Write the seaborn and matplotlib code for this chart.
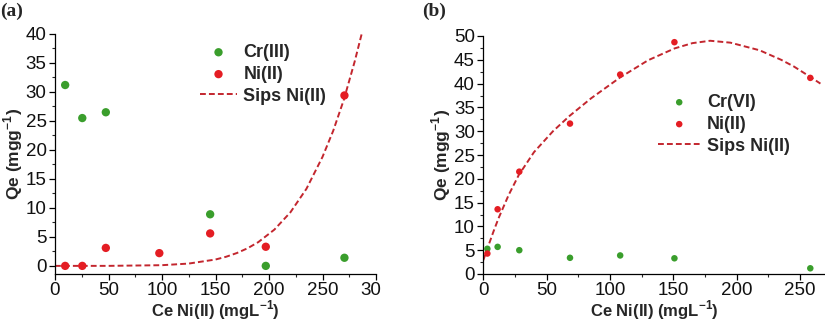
import numpy as np
import pandas as pd
import matplotlib
matplotlib.use("Agg")
import matplotlib.pyplot as plt
import seaborn as sns
from matplotlib.ticker import MultipleLocator
from matplotlib.transforms import Bbox, IdentityTransform, TransformedBbox

# ---------------- data ----------------
# panel (a)
a_x = [9.5, 25.5, 47.5, 97.5, 145, 197, 270.5]
a_cr_x = [9.5, 25.5, 47.5, 145, 197, 270.5]
a_cr_y = [31.2, 25.5, 26.5, 8.9, 0.0, 1.4]
a_ni_y = [0.0, 0.0, 3.1, 2.2, 5.6, 3.3, 29.4]
a_fit_x = [0, 50, 100, 125, 150, 160, 170, 180, 190, 205, 220, 235, 250, 260, 270, 280, 286.6]
a_fit_y = [0.0, 0.003, 0.12, 0.40, 1.1, 1.58, 2.22, 3.04, 4.10, 6.25, 9.24, 13.3, 18.8, 23.3, 28.7, 35.2, 40.0]

# panel (b)
b_x = [3.2, 11.3, 28.4, 68.4, 108, 150.8, 258]
b_cr_y = [5.3, 5.7, 5.0, 3.4, 3.9, 3.3, 1.2]
b_ni_y = [4.3, 13.6, 21.5, 31.6, 41.9, 48.7, 41.2]
b_fit_x = [0, 3, 8, 12, 20, 28, 40, 55, 68, 85, 108, 130, 151, 165, 179, 195, 218, 235, 245, 258, 266]
b_fit_y = [2.9, 5.2, 8.9, 11.7, 16.6, 20.8, 25.6, 30.0, 33.2, 36.9, 41.3, 44.9, 47.4, 48.5, 49.0, 48.6, 47.0, 45.0, 43.6, 41.4, 40.0]

x_ticks_a = [0, 50, 100, 150, 200, 250, 300]
y_ticks_a = [0, 5, 10, 15, 20, 25, 30, 35, 40]
x_ticks_b = [0, 50, 100, 150, 200, 250]
y_ticks_b = [0, 5, 10, 15, 20, 25, 30, 35, 40, 45, 50]

# ---------------- style ----------------
sns.set_theme(style="ticks")
plt.rcParams['font.family'] = ['Liberation Sans', 'DejaVu Sans']
plt.rcParams['mathtext.fontset'] = 'custom'
plt.rcParams['mathtext.rm'] = 'Liberation Sans'
plt.rcParams['mathtext.bf'] = 'Liberation Sans:bold'

GREEN = "#3a9e2c"
RED = "#e41d23"
FIT = "#c3262e"

W, H = 825, 324
fig = plt.figure(figsize=(W / 100, H / 100), dpi=100)

def px_axes(left, top, right, bottom):
    return fig.add_axes([left / W, (H - bottom) / H, (right - left) / W, (bottom - top) / H])

ax_a = px_axes(55, 34, 376, 274)
ax_b = px_axes(483.3, 36, 825.5, 274)

df_a_cr = pd.DataFrame({"x": a_cr_x, "y": a_cr_y})
df_a_ni = pd.DataFrame({"x": a_x, "y": a_ni_y})
df_a_fit = pd.DataFrame({"x": a_fit_x, "y": a_fit_y})
df_b_cr = pd.DataFrame({"x": b_x, "y": b_cr_y})
df_b_ni = pd.DataFrame({"x": b_x, "y": b_ni_y})
df_b_fit = pd.DataFrame({"x": b_fit_x, "y": b_fit_y})

# panel (a)
sns.scatterplot(data=df_a_cr, x="x", y="y", ax=ax_a, color=GREEN, s=36, edgecolor="none",
                label="Cr(III)", zorder=3)
sns.scatterplot(data=df_a_ni, x="x", y="y", ax=ax_a, color=RED, s=36, edgecolor="none",
                label="Ni(II)", zorder=3)
sns.lineplot(data=df_a_fit, x="x", y="y", ax=ax_a, color=FIT, linestyle=(0, (3, 1.6)),
             linewidth=1.4, label="Sips Ni(II)", zorder=2)

# panel (b)
sns.scatterplot(data=df_b_cr, x="x", y="y", ax=ax_b, color=GREEN, s=22, edgecolor="none",
                label="Cr(VI)", zorder=3)
sns.scatterplot(data=df_b_ni, x="x", y="y", ax=ax_b, color=RED, s=22, edgecolor="none",
                label="Ni(II)", zorder=3)
sns.lineplot(data=df_b_fit, x="x", y="y", ax=ax_b, color=FIT, linestyle=(0, (3, 1.6)),
             linewidth=1.4, label="Sips Ni(II)", zorder=2)

ax_a.set_xlim(0, 300)
ax_a.set_ylim(-1.4, 40)
ax_b.set_xlim(0, 270)
ax_b.set_ylim(0, 50)

for ax, xt, yt in [(ax_a, x_ticks_a, y_ticks_a), (ax_b, x_ticks_b, y_ticks_b)]:
    ax.set_xticks(xt)
    ax.set_yticks(yt)
    ax.set_xticklabels([str(v) for v in xt])
    ax.set_yticklabels([str(v) for v in yt])
    ax.xaxis.set_minor_locator(MultipleLocator(25))
    ax.yaxis.set_minor_locator(MultipleLocator(2.5))
    ax.tick_params(which="major", direction="out", length=4, width=0.9, labelsize=13.5,
                   pad=2, colors="black", labelcolor="#111111")
    ax.tick_params(which="minor", direction="out", length=2.5, width=0.8)
    sns.despine(ax=ax)
    for s in ["left", "bottom"]:
        ax.spines[s].set_linewidth(0.9)
        ax.spines[s].set_color("black")
    ax.set_xlabel(r"Ce Ni(II) (mgL$^{\mathbf{-1}}$)", fontsize=12, fontweight="bold")
    ax.set_ylabel(r"Qe (mgg$^{\mathbf{-1}}$)", fontsize=12.5, fontweight="bold")
    ax.xaxis.label.set_verticalalignment("center")
    ax.yaxis.label.set_verticalalignment("center")

ax_a.xaxis.set_label_coords(0.5, -0.152)
ax_a.yaxis.set_label_coords(-0.13, 0.5)
ax_b.xaxis.set_label_coords(0.5, -0.152)
ax_b.yaxis.set_label_coords(-0.124, 0.5)

# the "300" label of panel (a) is cut at the panel border in the source figure
clip = TransformedBbox(Bbox.from_extents(0, 0, 381, H), IdentityTransform())
for lab in ax_a.get_xticklabels():
    lab.set_clip_box(clip)
    lab.set_clip_on(True)

leg_kw = dict(frameon=False, borderpad=0, borderaxespad=0, labelspacing=0.27,
              prop={"weight": "bold", "size": 13}, handletextpad=0.35,
              bbox_transform=fig.transFigure, loc="upper left")
ax_a.legend(bbox_to_anchor=(200 / W, (H - 44) / H), handlelength=2.05, **leg_kw)
ax_b.legend(bbox_to_anchor=(658 / W, (H - 94) / H), handlelength=2.35, **leg_kw)

fig.text(0 / W, (H - 3) / H, "(a)", family="Liberation Serif", weight="bold", fontsize=14,
         ha="left", va="top")
fig.text(422 / W, (H - 3) / H, "(b)", family="Liberation Serif", weight="bold", fontsize=14,
         ha="left", va="top")

fig.savefig("out.png", dpi=100, facecolor="white")
